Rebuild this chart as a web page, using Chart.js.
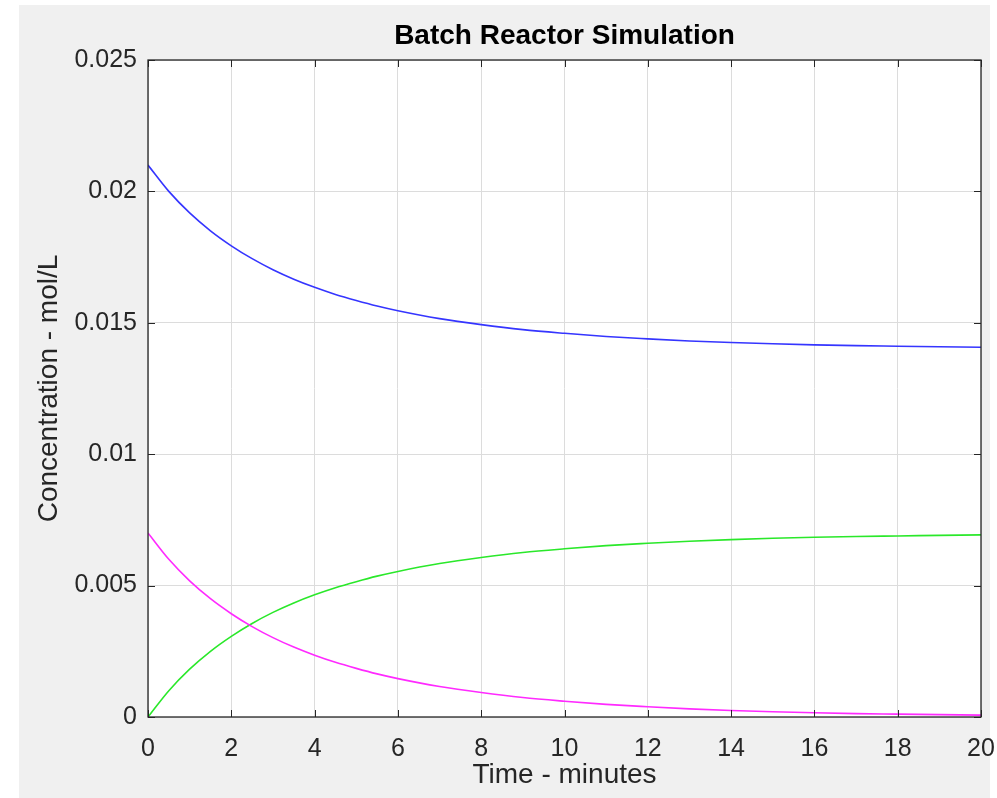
<!DOCTYPE html>
<html>
<head>
<meta charset="utf-8">
<script src="https://cdn.jsdelivr.net/npm/chart.js@4.4.1/dist/chart.umd.min.js"></script>
<style>
  body { margin: 0; background: #ffffff; }
  #fig { position: absolute; left: 19px; top: 5px; width: 971px; height: 793px; background: #f0f0f0; }
  #myChart { position: absolute; left: 0; top: 0; }
</style>
</head>
<body>
<div id="fig"><canvas id="myChart" width="978" height="793"></canvas></div>
<script>
// time in minutes
var tempo = [0,0.5,1,1.5,2,2.5,3,3.5,4,4.5,5,5.5,6,7,8,9,10,11,12,13,14,15,16,17,18,19,20];
// concentrations, mol/L
var serieAzul = [0.0210,0.02000,0.01918,0.01850,0.01793,0.01744,0.01702,0.01666,0.01635,0.01608,0.01585,0.01564,0.01546,0.01516,0.01493,0.01474,0.01460,0.01448,0.01439,0.01431,0.01425,0.01420,0.01416,0.01413,0.01411,0.01409,0.01407];
var serieMagenta = [0.0070,0.00600,0.00518,0.00450,0.00393,0.00344,0.00302,0.00266,0.00235,0.00208,0.00185,0.00164,0.00146,0.00116,0.00093,0.00074,0.00060,0.00048,0.00039,0.00031,0.00025,0.00020,0.00016,0.00013,0.00011,0.00009,0.00007];
var serieVerde = [0,0.00100,0.00182,0.00250,0.00307,0.00356,0.00398,0.00434,0.00465,0.00492,0.00515,0.00536,0.00554,0.00584,0.00607,0.00626,0.00640,0.00652,0.00661,0.00669,0.00675,0.00680,0.00684,0.00687,0.00689,0.00691,0.00693];
var xTickLabels = ['0','2','4','6','8','10','12','14','16','18','20'];
var yTickLabels = ['0','0.005','0.01','0.015','0.02','0.025'];

function pontos(serie) {
    var p = [];
    for (i = 0; i < tempo.length; i++) {
        p.push({x: tempo[i], y: serie[i]});
    }
    return p;
}

var fonte = 'Liberation Sans, Arial, Helvetica, sans-serif';
var corTexto = '#262626';

// white plot area, inward ticks on all four sides and the black box
var eixosMatlab = {
    id: 'eixosMatlab',
    beforeDraw: function(chart) {
        var a = chart.chartArea, ctx = chart.ctx;
        ctx.save();
        ctx.fillStyle = '#ffffff';
        ctx.fillRect(a.left, a.top, a.right - a.left, a.bottom - a.top);
        ctx.restore();
    },
    afterDraw: function(chart) {
        var a = chart.chartArea, ctx = chart.ctx;
        var sx = chart.scales.x, sy = chart.scales.y;
        ctx.save();
        ctx.strokeStyle = corTexto;
        ctx.lineWidth = 1;
        ctx.beginPath();
        sx.ticks.forEach(function(t) {
            var px = Math.round(sx.getPixelForValue(t.value)) + 0.5;
            ctx.moveTo(px, a.bottom); ctx.lineTo(px, a.bottom - 7);
            ctx.moveTo(px, a.top); ctx.lineTo(px, a.top + 7);
        });
        sy.ticks.forEach(function(t) {
            var py = Math.round(sy.getPixelForValue(t.value)) + 0.5;
            ctx.moveTo(a.left, py); ctx.lineTo(a.left + 7, py);
            ctx.moveTo(a.right, py); ctx.lineTo(a.right - 7, py);
        });
        ctx.stroke();
        ctx.lineWidth = 1.3;
        ctx.strokeRect(a.left, a.top, a.right - a.left, a.bottom - a.top);
        ctx.restore();
    }
};

var ctx = document.getElementById('myChart').getContext('2d');
var myChart = new Chart(ctx, {
    type: 'line',
    data: {
        datasets: [
            { label: 'A', data: pontos(serieAzul), borderColor: '#3535ff', borderWidth: 1.6, pointRadius: 0, cubicInterpolationMode: 'monotone' },
            { label: 'B', data: pontos(serieMagenta), borderColor: '#ff2aff', borderWidth: 1.6, pointRadius: 0, cubicInterpolationMode: 'monotone' },
            { label: 'C', data: pontos(serieVerde), borderColor: '#2ae82a', borderWidth: 1.6, pointRadius: 0, cubicInterpolationMode: 'monotone' }
        ]
    },
    options: {
        responsive: false,
        animation: false,
        layout: { padding: { left: 0, right: 16, top: 0, bottom: 0 } },
        plugins: {
            legend: { display: false },
            tooltip: { enabled: false },
            title: {
                display: true,
                text: 'Batch Reactor Simulation',
                fullSize: false,
                color: '#000000',
                font: { family: fonte, size: 28, weight: 'bold', lineHeight: 1.2 },
                padding: { top: 14, bottom: 7.4 }
            }
        },
        scales: {
            x: {
                type: 'linear',
                min: 0, max: 20,
                afterFit: function(s) { s.height = 81; s.paddingLeft = 0; s.paddingRight = 0; },
                ticks: {
                    stepSize: 2,
                    color: corTexto,
                    padding: 17,
                    maxRotation: 0,
                    font: { family: fonte, size: 25 },
                    callback: function(v, i) { return xTickLabels[i]; }
                },
                grid: { color: '#dcdcdc', drawTicks: false },
                border: { display: false },
                title: {
                    display: true,
                    text: 'Time - minutes',
                    color: corTexto,
                    font: { family: fonte, size: 28 },
                    padding: { top: 0, bottom: 6 }
                }
            },
            y: {
                min: 0, max: 0.025,
                afterFit: function(s) { s.width = 129; s.paddingTop = 0; s.paddingBottom = 0; },
                ticks: {
                    stepSize: 0.005,
                    color: corTexto,
                    padding: 11,
                    font: { family: fonte, size: 25 },
                    callback: function(v, i) { return yTickLabels[i]; }
                },
                grid: { color: '#dcdcdc', drawTicks: false },
                border: { display: false },
                title: {
                    display: true,
                    text: 'Concentration - mol/L',
                    color: corTexto,
                    font: { family: fonte, size: 28 },
                    padding: { top: 13, bottom: 0 }
                }
            }
        }
    },
    plugins: [eixosMatlab]
});
</script>
</body>
</html>
